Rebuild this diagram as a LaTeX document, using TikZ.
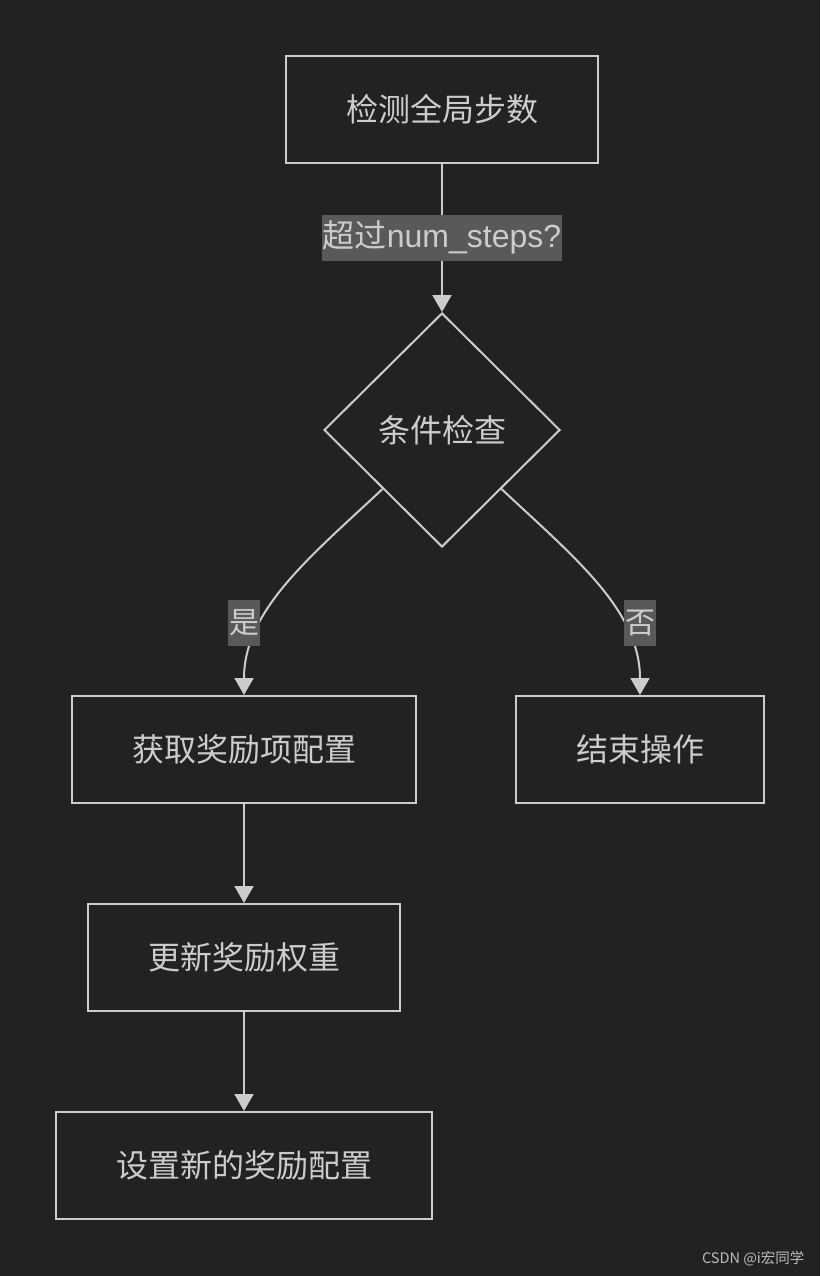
\documentclass[tikz,border=0pt]{standalone}
\usepackage{fontspec}
\setmainfont{Liberation Sans}
\newfontfamily\cjk{Noto Sans CJK SC}
\usetikzlibrary{shapes.geometric,arrows.meta}
\definecolor{bgc}{HTML}{212222}
\definecolor{linec}{HTML}{CCCCCC}
\definecolor{txtc}{HTML}{CCCCCC}
\definecolor{lblbg}{HTML}{595959}
\definecolor{wmc}{HTML}{BBBBBB}
\tikzset{
  box/.style={draw=linec, line width=2pt, fill=bgc, rectangle, minimum height=107pt, inner sep=0pt,
    text=txtc, font=\cjk\fontsize{32}{36}\selectfont},
  decision/.style={draw=linec, line width=2pt, fill=bgc, diamond, minimum width=236pt, minimum height=234pt,
    inner sep=0pt, text=txtc, font=\cjk\fontsize{32}{36}\selectfont},
  edgelbl/.style={fill=lblbg, inner xsep=1pt, inner ysep=0pt, minimum height=46pt, text=txtc,
    font=\fontsize{32}{36}\selectfont},
  conn/.style={draw=linec, line width=2pt, -{Triangle[width=19pt,length=17pt,fill=linec]}},
}
\begin{document}
\begin{tikzpicture}[x=1pt,y=-1pt]
\fill[bgc] (0,0) rectangle (820,1276);
\useasboundingbox (0,0) rectangle (820,1276);
\node[box, minimum width=312pt] (check) at (442,109.5) {检测全局步数};
\node[decision] (cond) at (442,430) {条件检查};
\node[box, minimum width=344pt] (get) at (244,749.5) {获取奖励项配置};
\node[box, minimum width=248pt] (end) at (640,749.5) {结束操作};
\node[box, minimum width=312pt] (upd) at (244,957.5) {更新奖励权重};
\node[box, minimum width=376pt] (set) at (244,1165.5) {设置新的奖励配置};
\draw[conn] (check.south) -- (cond.north);
\draw[conn] (cond.south west) .. controls (310,557) and (get.north |- 0,610) .. (get.north);
\draw[conn] (cond.south east) .. controls (574,557) and (end.north |- 0,610) .. (end.north);
\draw[conn] (get.south) -- (upd.north);
\draw[conn] (upd.south) -- (set.north);
\node[edgelbl] (l1) at (442,237.5) {{\cjk 超过}num\_steps?};
\node[edgelbl, font=\cjk\fontsize{30}{36}\selectfont] (l2) at (244,622.5) {是};
\node[edgelbl, font=\cjk\fontsize{30}{36}\selectfont] (l3) at (640,622.5) {否};
\node[text=wmc, font=\cjk\fontsize{14.5}{16}\selectfont, anchor=east] (wm) at (808,1259) {CSDN @i宏同学};
\end{tikzpicture}
\end{document}
